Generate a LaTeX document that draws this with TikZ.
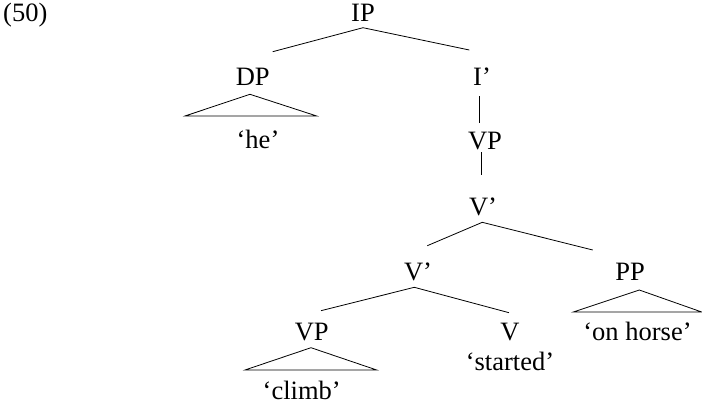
\documentclass[tikz,border=0pt]{standalone}
\usepackage{fontspec}
\setmainfont{Liberation Serif}
\begin{document}
\begin{tikzpicture}[x=1pt,y=-1pt,
  lbl/.style={anchor=base,inner sep=0pt,font=\fontsize{26.5}{30}\selectfont},
  edge/.style={line width=0.8pt}]
\useasboundingbox (0,0) rectangle (702,405);
\node[lbl,anchor=base west] (num) at (3,21) {(50)};
\node[lbl] (IP) at (363,21) {IP};
\node[lbl] (DP) at (252.7,85) {DP};
\node[lbl] (Ib) at (482,85) {I’};
\node[lbl] (he) at (258,148) {‘he’};
\node[lbl] (VP) at (485,149) {VP};
\node[lbl] (Vb1) at (483,215) {V’};
\node[lbl] (Vb2) at (418,280) {V’};
\node[lbl] (PP) at (630,280) {PP};
\node[lbl] (VP2) at (311.7,340) {VP};
\node[lbl] (V) at (510,340) {V};
\node[lbl] (horse) at (637.5,340) {‘on horse’};
\node[lbl] (started) at (510,370) {‘started’};
\node[lbl] (climb) at (301.7,399) {‘climb’};
% IP
\draw[edge] ([xshift=20pt,yshift=33.3pt]DP.base) -- ([yshift=-6.7pt]IP.base) -- ([xshift=-12.7pt,yshift=35pt]Ib.base);
% DP triangle
\draw[edge] ([xshift=-2.7pt,yshift=-9.3pt]DP.base) -- ++(-65,21.7) -- ++(131.7,0) -- cycle;
% I' - VP
\draw[edge] ([xshift=-3pt,yshift=-11pt]Ib.base) -- ([xshift=-6pt,yshift=26pt]VP.base);
% VP - V'
\draw[edge] ([xshift=-4pt,yshift=-3pt]VP.base) -- ([xshift=-2pt,yshift=40pt]Vb1.base);
% V' top
\draw[edge] ([xshift=9.3pt,yshift=34.3pt]Vb2.base) -- ([xshift=-0.7pt,yshift=-7.3pt]Vb1.base) -- ([xshift=-37.3pt,yshift=30pt]PP.base);
% V' second
\draw[edge] ([xshift=9.3pt,yshift=29.3pt]VP2.base) -- ([xshift=-3.7pt,yshift=-7.3pt]Vb2.base) -- ([xshift=-1pt,yshift=27.3pt]V.base);
% PP triangle
\draw[edge] ([xshift=9.3pt,yshift=-10pt]PP.base) -- ++(-66,22) -- ++(128.4,0) -- cycle;
% VP triangle
\draw[edge] ([xshift=-0.7pt,yshift=-7.7pt]VP2.base) -- ++(-66,22.3) -- ++(131.7,0) -- cycle;
\end{tikzpicture}
\end{document}
